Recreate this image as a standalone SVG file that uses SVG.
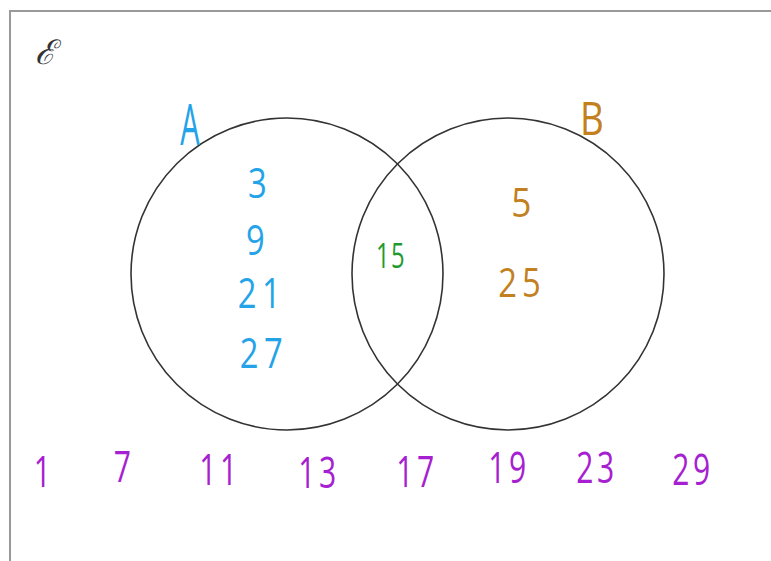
<svg xmlns="http://www.w3.org/2000/svg" width="771" height="561" viewBox="0 0 771 561">
<style>
.frame{fill:#fff;stroke:#999;stroke-width:2}
.set{fill:none;stroke:#333;stroke-width:1.6}
text{font-family:"Open Sans","DejaVu Sans",sans-serif;font-weight:400;text-anchor:middle}
.a{fill:#25a3e8;font-size:42px;letter-spacing:7px}
.lA{fill:#25a3e8;font-size:56px}
.lB{fill:#c2801e;font-size:46px}
.b{fill:#c2801e;font-size:40px;letter-spacing:6px}
.i{fill:#1e9a2e;font-size:34px;letter-spacing:2px}
.u{fill:#a61fd0;font-size:43px;letter-spacing:5px}
.e{fill:#333;font-family:"DejaVu Serif",serif;font-style:italic;font-size:34px}
</style>
<rect width="771" height="561" fill="#fff"/>
<rect class="frame" x="10" y="11" width="775" height="560"/>
<text class="e" x="45" y="64">ℰ</text>
<g id="setA">
<circle class="set" cx="287" cy="274" r="156"/>
<text class="lA" transform="translate(190,145) scale(0.55,1)">A</text>
<text class="a" transform="translate(260,198) scale(0.78,1)">3</text>
<text class="a" transform="translate(258,255) scale(0.78,1)">9</text>
<text class="a" transform="translate(262,308) scale(0.78,1)">21</text>
<text class="a" transform="translate(264,368) scale(0.78,1)">27</text>
</g>
<g id="setB">
<circle class="set" cx="508" cy="274" r="156"/>
<text class="lB" transform="translate(592,135) scale(0.8,1)">B</text>
<text class="b" transform="translate(524,217) scale(0.88,1)">5</text>
<text class="b" transform="translate(522,297) scale(0.82,1)">25</text>
</g>
<g id="intersection">
<text class="i" transform="translate(391,268) scale(0.7,1)">15</text>
</g>
<g id="outside">
<text class="u" transform="translate(44,487) scale(0.7,1)">1</text>
<text class="u" transform="translate(124,482) scale(0.7,1)">7</text>
<text class="u" transform="translate(220,485) scale(0.7,1)">11</text>
<text class="u" transform="translate(319,488) scale(0.7,1)">13</text>
<text class="u" transform="translate(417,487) scale(0.7,1)">17</text>
<text class="u" transform="translate(509,483) scale(0.7,1)">19</text>
<text class="u" transform="translate(597,483) scale(0.7,1)">23</text>
<text class="u" transform="translate(693,485) scale(0.7,1)">29</text>
</g>
</svg>
